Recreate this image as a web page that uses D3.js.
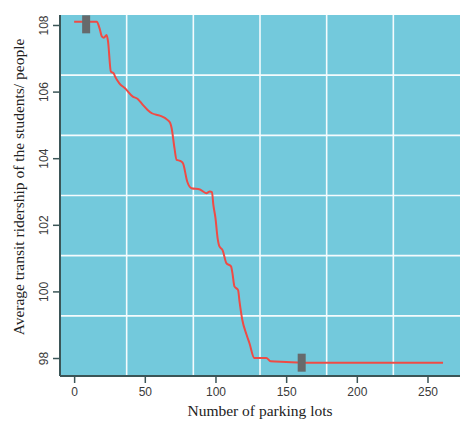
<!DOCTYPE html>
<html>
<head>
<meta charset="utf-8">
<script src="https://cdn.jsdelivr.net/npm/d3@7"></script>
<style>
  body { margin: 0; background: #fff; }
  svg { display: block; }
</style>
</head>
<body>
<span></span>
<script>
let width = 460;
let height = 428;
let margin = { top: 15, right: 0, bottom: 52, left: 60 };

// number of parking lots vs average ridership
let parkingLots = [0, 16, 18, 19.7, 21, 23, 24, 26, 28, 29, 32, 36, 41.5, 45, 48.6, 52, 55, 60.6, 66, 68, 69, 71, 72.5,
    75, 77, 80, 83, 89, 93.5, 96, 97.5, 98.5, 100, 101.5, 102.8, 105, 107.7, 111, 112, 113.4, 116, 117, 119, 122,
    124, 127.5, 136, 139, 150, 161, 261];
let ridership = [108.1, 108.1, 107.9, 107.65, 107.62, 107.7, 107.5, 106.6, 106.55, 106.45, 106.25, 106.1, 105.85,
    105.78, 105.6, 105.45, 105.35, 105.28, 105.15, 105.05, 104.9, 104.3, 103.95, 103.92, 103.85, 103.3, 103.1,
    103.06, 102.95, 103.0, 102.98, 102.6, 102.2, 101.6, 101.35, 101.24, 100.85, 100.75, 100.55, 100.15, 100.04,
    99.7, 99.14, 98.7, 98.45, 98.0, 98.0, 97.9, 97.88, 97.86, 97.86];

// grey markers at both ends of the curve
let markerX = [8.5, 161];
let markerY = [108.02, 97.86];

let xTicks = [0, 50, 100, 150, 200, 250];
let yTicks = [98, 100, 102, 104, 106, 108];

let svg = d3.select("span")
    .append("svg")
    .attr("width", width)
    .attr("height", height);

let x = d3.scaleLinear().domain([-10, 273]).range([margin.left, width - margin.right]);
let y = d3.scaleLinear().domain([97.46, 108.3]).range([height - margin.bottom, margin.top]);

let plotW = width - margin.right - margin.left;
let plotH = height - margin.bottom - margin.top;

svg.append("rect")
    .attr("x", margin.left)
    .attr("y", margin.top)
    .attr("width", plotW)
    .attr("height", plotH)
    .attr("fill", "#73c9dc");

// white grid, 6 equal cells each way (not tied to ticks)
for (let i = 1; i < 6; i++) {
    let gx = margin.left + plotW * i / 6;
    let gy = margin.top + plotH * i / 6;
    svg.append("line")
        .attr("x1", gx).attr("x2", gx)
        .attr("y1", margin.top).attr("y2", margin.top + plotH)
        .attr("stroke", "#f4fbfd").attr("stroke-width", 1.6);
    svg.append("line")
        .attr("x1", margin.left).attr("x2", margin.left + plotW)
        .attr("y1", gy).attr("y2", gy)
        .attr("stroke", "#f4fbfd").attr("stroke-width", 1.6);
}

let line = d3.line()
    .x((d, i) => x(parkingLots[i]))
    .y(d => y(d))
    .curve(d3.curveMonotoneX);

svg.append("path")
    .attr("d", line(ridership))
    .attr("fill", "none")
    .attr("stroke", "#ef4b45")
    .attr("stroke-width", 2);

svg.selectAll(".marker")
    .data(markerX)
    .enter()
    .append("rect")
    .attr("class", "marker")
    .attr("x", d => x(d) - 4)
    .attr("y", (d, i) => y(markerY[i]) - 9)
    .attr("width", 8)
    .attr("height", 18)
    .attr("fill", "#666a6c");

// axes
let axisColor = "#3b5557";
let xAxis = svg.append("g")
    .attr("transform", "translate(0," + (height - margin.bottom) + ")")
    .call(d3.axisBottom(x).tickValues(xTicks).tickSize(7).tickPadding(4));
let yAxis = svg.append("g")
    .attr("transform", "translate(" + margin.left + ",0)")
    .call(d3.axisLeft(y).tickValues(yTicks).tickSize(7).tickPadding(4));

[xAxis, yAxis].forEach(function (g) {
    g.select(".domain").attr("stroke", axisColor).attr("stroke-width", 2).attr("d",
        g === xAxis ? "M" + margin.left + ",0H" + (width - margin.right) : "M0," + margin.top + "V" + (height - margin.bottom));
    g.selectAll(".tick line").attr("stroke", axisColor).attr("stroke-width", 1.5);
    g.selectAll(".tick text")
        .attr("fill", "#3a3a3a")
        .style("font-family", "Liberation Sans, Arial, sans-serif")
        .style("font-size", "12px");
});

yAxis.selectAll(".tick text")
    .attr("x", null).attr("dy", null)
    .attr("text-anchor", "middle")
    .attr("transform", "translate(-16,0) rotate(-90)")
    .attr("dy", "0.35em");

svg.append("text")
    .attr("x", 260)
    .attr("y", 416)
    .attr("text-anchor", "middle")
    .style("font-family", "Liberation Serif, Times New Roman, serif")
    .style("font-size", "15.5px")
    .attr("fill", "#222")
    .text("Number of parking lots");

svg.append("text")
    .attr("transform", "translate(24,187) rotate(-90)")
    .attr("text-anchor", "middle")
    .style("font-family", "Liberation Serif, Times New Roman, serif")
    .style("font-size", "15.5px")
    .attr("fill", "#222")
    .text("Average transit ridership of the students/ people");
</script>
</body>
</html>
